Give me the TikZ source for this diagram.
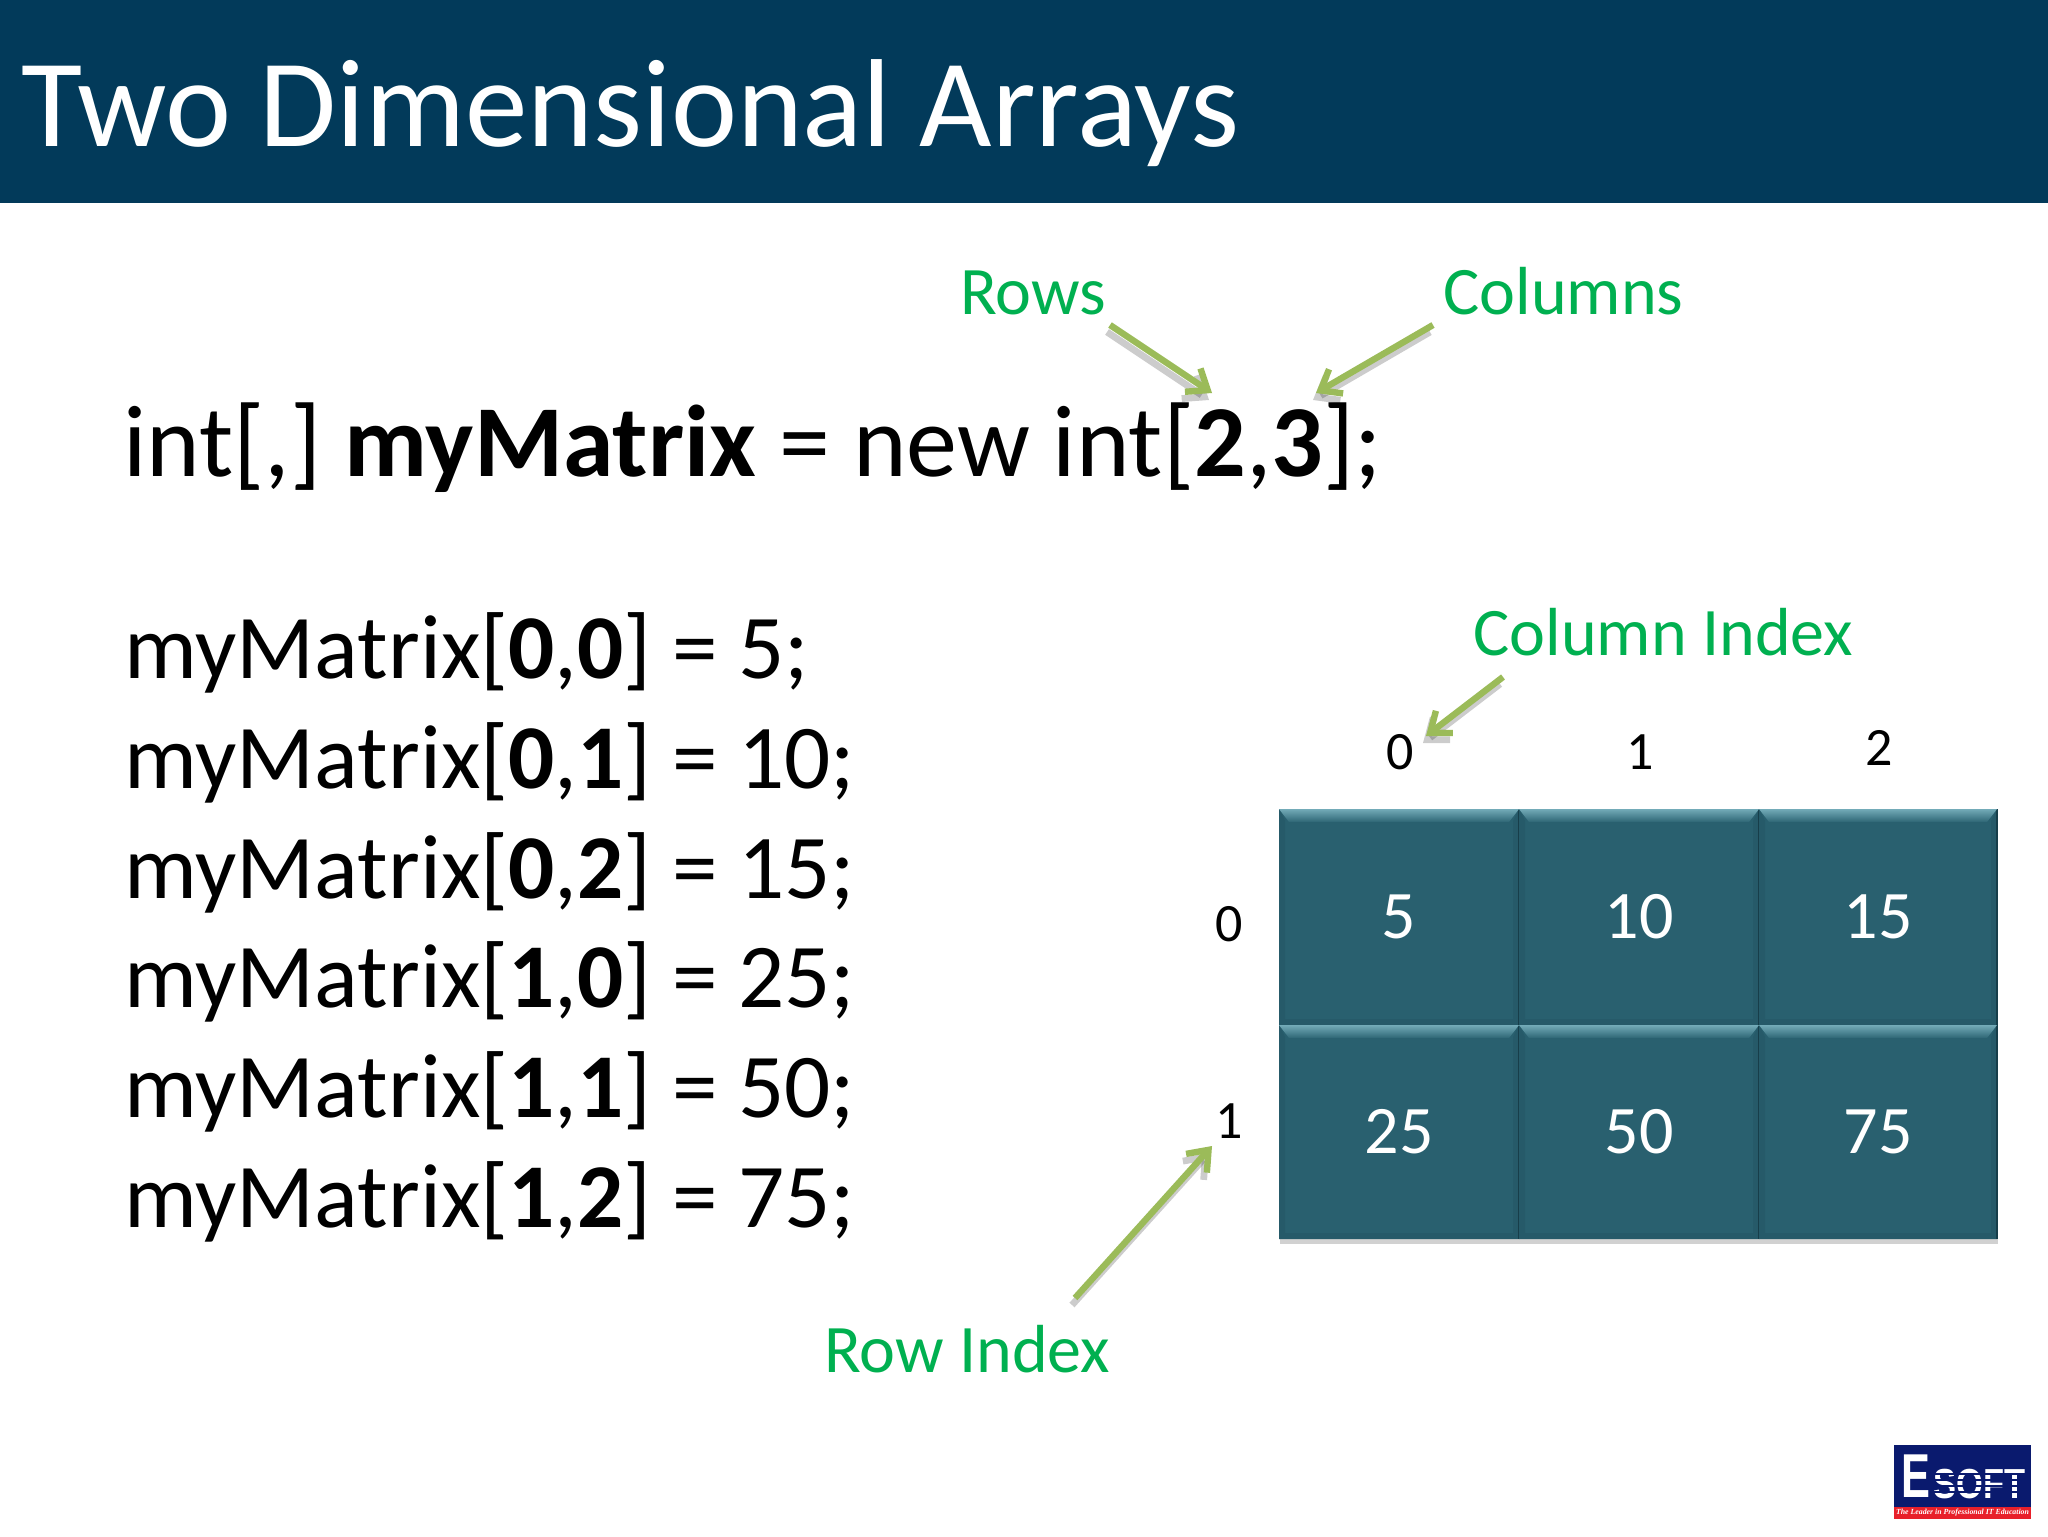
\documentclass[tikz,border=0pt]{standalone}
\usepackage{fontspec}
\setmainfont{Carlito}
\newfontfamily\logoserif{Liberation Serif}
\newfontfamily\logosans{Liberation Sans}
\usetikzlibrary{arrows.meta,shadows,calc}
\definecolor{barblue}{HTML}{023A5A}
\definecolor{cellteal}{HTML}{29606F}
\definecolor{celllight}{HTML}{5A9CAB}
\definecolor{celldark}{HTML}{173E4A}
\definecolor{cellside}{HTML}{265A69}
\definecolor{labelgreen}{HTML}{00B050}
\definecolor{arrowgreen}{HTML}{9BBB59}
\definecolor{logonavy}{HTML}{0A1A6E}
\definecolor{logored}{HTML}{E8202A}
\tikzset{
  x=0.5pt,y=-0.5pt,
  titletext/.style={anchor=base west,inner sep=0pt,text=white,font=\fontsize{62.6}{62.6}\selectfont},
  decltext/.style={anchor=base west,inner sep=0pt,text=black,font=\fontsize{51}{51}\selectfont},
  codetext/.style={anchor=base west,inner sep=0pt,text=black,font=\fontsize{45.6}{45.6}\selectfont},
  greentext/.style={anchor=base west,inner sep=0pt,text=labelgreen,font=\fontsize{34}{34}\selectfont},
  indextext/.style={anchor=base,inner sep=0pt,text=black,font=\fontsize{27}{27}\selectfont},
  celltext/.style={inner sep=0pt,text=white,font=\fontsize{34}{34}\selectfont},
  greenarrow/.style={draw=arrowgreen,line width=3.2pt,-{Straight Barb[length=9pt,width=14pt,line width=3.2pt]}},
  arrowshade/.style={draw=black,draw opacity=0.2,line width=3.4pt,-{Straight Barb[length=9pt,width=14pt,line width=3.4pt]}},
}
\newcommand{\cellbox}[6]{% name, x0, y0, x1, y1, text
  \fill[cellteal] (#2,#3) rectangle (#4,#5);
  \fill[cellside] (#2,#3) -- (#2+6,#3+12) -- (#2+6,#5-6) -- (#2,#5) -- cycle;
  \fill[cellside] (#4,#3) -- (#4-6,#3+12) -- (#4-6,#5-6) -- (#4,#5) -- cycle;
  \fill[cellside] (#2,#5) -- (#2+6,#5-6) -- (#4-6,#5-6) -- (#4,#5) -- cycle;
  \draw[celldark,line width=1.2pt] (#4,#3) -- (#4,#5);
  \shade[top color=celllight!85!white,bottom color=cellteal!90!celllight] (#2,#3) -- (#4,#3) -- (#4-10,#3+13) -- (#2+10,#3+13) -- cycle;
  \node[celltext] (#1) at ($(#2,#3)!0.5!(#4,#5)$) {#6};
}
\newcommand{\shadedarrow}[2]{%
  \draw[arrowshade] ($(#1)+(-3,7)$) -- ($(#2)+(-3,7)$);
  \draw[greenarrow] (#1) -- (#2);
}
\begin{document}
\begin{tikzpicture}
\useasboundingbox (0,0) rectangle (2048,1536);
\fill[white] (0,0) rectangle (2048,1536);
\fill[barblue] (0,0) rectangle (2048,203);
\node[titletext] (title) at (21,146) {Two Dimensional Arrays};

\node[greentext] (rows) at (960,314) {Rows};
\node[greentext] (columns) at (1443,314) {Columns};
\node[greentext] (colindex) at (1473,655) {Column Index};
\node[greentext] (rowindex) at (824,1372) {Row Index};

\node[decltext] (decl) at (123,476) {int[,] \textbf{myMatrix} = new int[\textbf{2},\textbf{3}];};
\node[codetext] (l1) at (124,678) {myMatrix[\textbf{0},\textbf{0}] = 5;};
\node[codetext] (l2) at (124,788) {myMatrix[\textbf{0},\textbf{1}] = 10;};
\node[codetext] (l3) at (124,898) {myMatrix[\textbf{0},\textbf{2}] = 15;};
\node[codetext] (l4) at (124,1007) {myMatrix[\textbf{1},\textbf{0}] = 25;};
\node[codetext] (l5) at (124,1117) {myMatrix[\textbf{1},\textbf{1}] = 50;};
\node[codetext] (l6) at (124,1227) {myMatrix[\textbf{1},\textbf{2}] = 75;};

% grid shadow
\fill[black!18] (1280,812) rectangle (1998,1244);
\cellbox{c00}{1279}{809}{1519}{1025}{5}
\cellbox{c01}{1519}{809}{1759}{1025}{10}
\cellbox{c02}{1759}{809}{1997}{1025}{15}
\cellbox{c10}{1279}{1025}{1519}{1239}{25}
\cellbox{c11}{1519}{1025}{1759}{1239}{50}
\cellbox{c12}{1759}{1025}{1997}{1239}{75}

\node[indextext] (h0) at (1400,769) {0};
\node[indextext] (h1) at (1640,769) {1};
\node[indextext] (h2) at (1879,765) {2};
\node[indextext] (r0) at (1229,941) {0};
\node[indextext] (r1) at (1229,1138) {1};

% arrows
\coordinate (rowsS) at (1110,325);
\coordinate (rowsE) at (1212,393);
\coordinate (colsS) at (1433,325);
\coordinate (colsE) at (1316,393);
\coordinate (ciS) at (1503,677);
\coordinate (ciE) at (1426,736);
\coordinate (riS) at (1075,1298);
\coordinate (riE) at (1212,1146);
\shadedarrow{rowsS}{rowsE}
\shadedarrow{colsS}{colsE}
\shadedarrow{ciS}{ciE}
\shadedarrow{riS}{riE}

% logo
\fill[logonavy] (1894,1445) rectangle (2031,1519);
\fill[logored] (1894,1507) rectangle (2031,1519);
\node[anchor=base west,inner sep=0pt,text=white,xscale=0.7,font=\logosans\bfseries\fontsize{31}{31}\selectfont] (logoE) at (1901,1497) {E};
\node[anchor=base west,inner sep=0pt,text=white,xscale=0.82,font=\logosans\bfseries\fontsize{21}{21}\selectfont] (logoS) at (1933,1498) {SOFT};
\foreach \yy in {1473,1479,1485,1491}
  \fill[logonavy] (1932,\yy) rectangle (2028,\yy+1.8);
\node[inner sep=0pt,text=white,font=\logoserif\bfseries\itshape\fontsize{3.9}{3.9}\selectfont] (logoT) at (1962.5,1513) {The Leader in Professional IT Education};
\end{tikzpicture}
\end{document}
